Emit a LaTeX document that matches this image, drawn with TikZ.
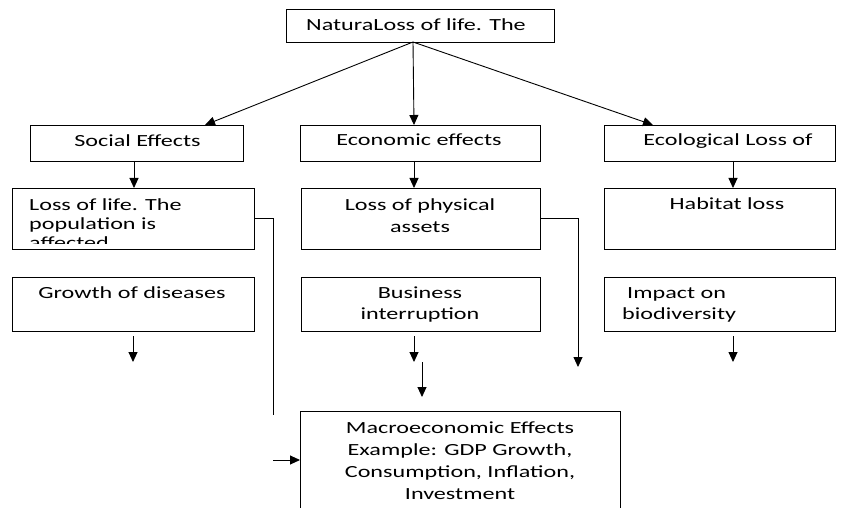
\documentclass[tikz,border=0pt]{standalone}
\usepackage{fontspec}
\setmainfont[FakeStretch=1.42]{Carlito}
\usetikzlibrary{arrows.meta}
\begin{document}
\begin{tikzpicture}[x=1pt,y=-1pt,
  box/.style={draw=black,line width=0.9pt,rectangle,inner sep=0pt,outer sep=0pt},
  conn/.style={draw=black,line width=0.9pt},
  arr/.style={conn,-{Triangle[length=10pt,width=9pt]}},
  txt/.style={inner sep=0pt,anchor=base,font=\fontsize{17}{21.7}\selectfont}
]
\clip (0,0) rectangle (841,508);
\fill[white] (0,0) rectangle (841,508);
% boxes
\node[box,minimum width=268pt,minimum height=33pt] (top) at (420,25.5) {};
\node[box,minimum width=213pt,minimum height=36pt] (soc) at (136.5,143) {};
\node[box,minimum width=240pt,minimum height=36pt] (econ) at (420,143) {};
\node[box,minimum width=231pt,minimum height=36pt] (ecol) at (719.5,143) {};
\node[box,minimum width=242pt,minimum height=61pt] (lol) at (133,218.5) {};
\node[box,minimum width=242pt,minimum height=54pt] (grow) at (133,304) {};
\node[box,minimum width=239pt,minimum height=61pt] (lpa) at (420.5,218.5) {};
\node[box,minimum width=239pt,minimum height=54pt] (bus) at (420.5,304) {};
\node[box,minimum width=231pt,minimum height=61pt] (hab) at (719.5,218.5) {};
\node[box,minimum width=231pt,minimum height=54pt] (imp) at (719.5,304) {};
\node[box,minimum width=320pt,minimum height=119pt] (macro) at (460,470.5) {};
% texts (multi-line nodes: base anchor = last line baseline)
\node[txt] (ttop) at (416,30.7) {NaturaLoss of life. The};
\node[txt] (tsoc) at (137.5,146.5) {Social Effects};
\node[txt] (tecon) at (419,146) {Economic effects};
\node[txt] (tecol) at (728,145.5) {Ecological Loss of};
\begin{scope}
\clip (12,188) rectangle (254,243.5);
\node[txt,anchor=base west,align=left,font=\fontsize{17}{18.7}\selectfont] (tlol) at (29,248.1) {Loss of life. The\\population is\\affected};
\end{scope}
\node[txt] (tgrow) at (132,298.3) {Growth of diseases};
\node[txt,align=center,font=\fontsize{17}{21.6}\selectfont] (tlpa) at (420,232.3) {Loss of physical\\assets};
\node[txt,align=center,font=\fontsize{17}{21}\selectfont] (tbus) at (420,319.3) {Business\\interruption};
\node[txt] (thab) at (727,209.3) {Habitat loss};
\node[txt,anchor=base west,align=left,font=\fontsize{17}{21}\selectfont] (timp) at (622,319.3) {\hspace{5pt}Impact on\\biodiversity};
\node[txt,align=center,font=\fontsize{17}{21.9}\selectfont] (tmacro) at (460,499) {Macroeconomic Effects\\Example: GDP Growth,\\Consumption, Inflation,\\Investment};
% connectors
\draw[arr] ([xshift=-7pt]top.south) -- ([xshift=68.5pt]soc.north);
\draw[arr] ([xshift=-7pt]top.south) -- ([xshift=-6pt]econ.north);
\draw[arr] ([xshift=-7pt]top.south) -- ([xshift=-66.5pt]ecol.north);
\draw[arr] ([xshift=-2.5pt]soc.south) -- ([xshift=1pt]lol.north);
\draw[arr] ([xshift=-6pt]econ.south) -- ([xshift=-6.5pt]lpa.north);
\draw[arr] ([xshift=13.5pt]ecol.south) -- ([xshift=13.5pt]hab.north);
\coordinate (c1) at (273,415);
\draw[conn] (lol.east) -| (c1);
\coordinate (c2) at (273,460);
\draw[arr] (c2) -- (c2 -| macro.west);
\coordinate (c3) at (578,367);
\draw[arr] (lpa.east) -| (c3);
\draw[arr] ([yshift=-5pt]grow.south) -- ++(0,26);
\draw[arr] ([yshift=-5pt,xshift=-6.5pt]bus.south) -- ++(0,26);
\coordinate (m1) at (422,362);
\coordinate (m2) at (422,397);
\draw[arr] (m1) -- (m2);
\draw[arr] ([yshift=-5pt,xshift=13.5pt]imp.south) -- ++(0,26);
\end{tikzpicture}
\end{document}
